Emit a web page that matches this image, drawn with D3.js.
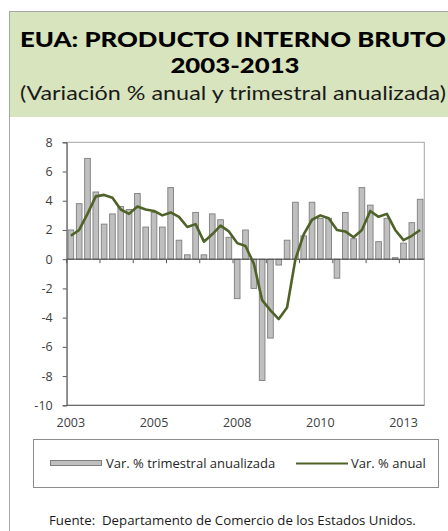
<!DOCTYPE html>
<html>
<head>
<meta charset="utf-8">
<script src="https://cdn.jsdelivr.net/npm/d3@7/dist/d3.min.js"></script>
<style>
    body { margin: 0; background: #fff; }
    svg { display: block; font-family: "Open Sans", "Noto Sans", sans-serif; }
</style>
</head>
<body>
<svg id="chart" width="448" height="531"></svg>
<script>
var quarters = [
    '2003T1', '2003T2', '2003T3', '2003T4', '2004T1', '2004T2', '2004T3', '2004T4',
    '2005T1', '2005T2', '2005T3', '2005T4', '2006T1', '2006T2', '2006T3', '2006T4',
    '2007T1', '2007T2', '2007T3', '2007T4', '2008T1', '2008T2', '2008T3', '2008T4',
    '2009T1', '2009T2', '2009T3', '2009T4', '2010T1', '2010T2', '2010T3', '2010T4',
    '2011T1', '2011T2', '2011T3', '2011T4', '2012T1', '2012T2', '2012T3', '2012T4',
    '2013T1', '2013T2', '2013T3'
];
var trimestral = [
    2.0, 3.8, 6.9, 4.6, 2.4, 3.1, 3.6, 3.4, 4.5, 2.2, 3.2, 2.2,
    4.9, 1.3, 0.3, 3.2, 0.3, 3.1, 2.7, 1.5, -2.7, 2.0, -2.0, -8.3,
    -5.4, -0.4, 1.3, 3.9, 1.6, 3.9, 2.8, 2.8, -1.3, 3.2, 1.4, 4.9,
    3.7, 1.2, 2.8, 0.1, 1.1, 2.5, 4.1
];
var anual = [
    1.6, 2.0, 3.1, 4.3, 4.4, 4.2, 3.4, 3.1, 3.6, 3.4, 3.3, 3.0,
    3.2, 2.9, 2.2, 2.4, 1.2, 1.7, 2.3, 1.9, 1.1, 0.9, -0.3, -2.8,
    -3.5, -4.1, -3.3, 0.0, 1.7, 2.7, 3.0, 2.8, 2.0, 1.9, 1.5, 2.0,
    3.3, 2.9, 3.1, 2.0, 1.3, 1.6, 2.0
];
var yTicks = [-10, -8, -6, -4, -2, 0, 2, 4, 6, 8];
var xLabelQuarters = ['2003T1', '2005T3', '2008T1', '2010T3', '2013T1'];
var xTickQuarters = ['2003T1', '2004T1', '2005T1', '2006T1', '2007T1', '2008T1',
    '2009T1', '2010T1', '2011T1', '2012T1', '2013T1'];

var titleLines = ['EUA: PRODUCTO INTERNO BRUTO', '2003-2013'];
var subtitle = '(Variación % anual y trimestral anualizada)';
var legendBars = 'Var. % trimestral anualizada';
var legendLine = 'Var. % anual';
var source = 'Fuente:  Departamento de Comercio de los Estados Unidos.';

var svg = d3.select('#chart');
var plot = { left: 66.7, right: 424.3, top: 142.3, bottom: 405.3 };
var green = '#4f6228';

// marco y cabecera
svg.append('rect')
    .attr('x', 9.5).attr('y', 11.5)
    .attr('width', 446).attr('height', 530)
    .attr('fill', '#fff')
    .attr('stroke', '#a6a6a6');
svg.append('rect')
    .attr('x', 10).attr('y', 12)
    .attr('width', 445).attr('height', 105)
    .attr('fill', '#d8e4bd');

function fitText(sel, target) {
    var size = parseFloat(sel.attr('font-size'));
    var w = sel.node().getComputedTextLength();
    sel.attr('font-size', (size * target / w).toFixed(2));
}

// titulo: tamano fijo, ancho ajustado con textLength
var t1 = svg.append('text')
    .attr('x', 233).attr('y', 46.5)
    .attr('text-anchor', 'middle')
    .attr('font-family', 'Lato, "Open Sans", sans-serif')
    .attr('font-size', 21.5).attr('font-weight', 900)
    .attr('fill', '#000')
    .text(titleLines[0]);
var w1 = t1.node().getComputedTextLength();
t1.attr('textLength', 426).attr('lengthAdjust', 'spacingAndGlyphs');

var t2 = svg.append('text')
    .attr('x', 235).attr('y', 72.5)
    .attr('text-anchor', 'middle')
    .attr('font-family', 'Lato, "Open Sans", sans-serif')
    .attr('font-size', 21.5).attr('font-weight', 900)
    .attr('fill', '#000')
    .text(titleLines[1]);
var w2 = t2.node().getComputedTextLength();
t2.attr('textLength', (w2 * 426 / w1).toFixed(1)).attr('lengthAdjust', 'spacingAndGlyphs');

var t3 = svg.append('text')
    .attr('x', 233).attr('y', 99.5)
    .attr('text-anchor', 'middle')
    .attr('font-family', 'Lato, "Open Sans", sans-serif')
    .attr('font-size', 19)
    .attr('fill', '#1a1a1a')
    .text(subtitle)
    .attr('textLength', 426)
    .attr('lengthAdjust', 'spacingAndGlyphs');

// escalas
var x = d3.scaleBand()
    .domain(quarters)
    .range([plot.left, plot.right])
    .padding(0);
var y = d3.scaleLinear()
    .domain([-10, 8])
    .range([plot.bottom, plot.top]);
var bw = x.bandwidth();

// borde del area de grafica
svg.append('rect')
    .attr('x', plot.left).attr('y', plot.top)
    .attr('width', plot.right - plot.left)
    .attr('height', plot.bottom - plot.top)
    .attr('fill', 'none')
    .attr('stroke', '#a6a6a6');

// eje y
var yAxis = svg.append('g')
    .attr('transform', 'translate(' + plot.left + ',0)')
    .call(d3.axisLeft(y).tickValues(yTicks).tickSize(4).tickPadding(10)
        .tickFormat(function(d) { return d; }));
yAxis.select('.domain').attr('stroke', '#595959');
yAxis.selectAll('.tick line').attr('stroke', '#595959');
yAxis.selectAll('.tick text')
    .attr('font-size', 12.5)
    .attr('font-family', '"Open Sans", sans-serif')
    .attr('fill', '#404040');

svg.append('line')
    .attr('x1', plot.left).attr('x2', plot.right)
    .attr('y1', plot.bottom).attr('y2', plot.bottom)
    .attr('stroke', '#595959');

// barras trimestrales
svg.append('g')
    .selectAll('rect')
    .data(quarters)
    .join('rect')
    .attr('x', function(d) { return x(d) + bw * 0.16; })
    .attr('width', bw * 0.68)
    .attr('y', function(d, i) { return y(Math.max(0, trimestral[i])); })
    .attr('height', function(d, i) { return Math.abs(y(trimestral[i]) - y(0)); })
    .attr('fill', '#bfbfbf')
    .attr('stroke', '#7f7f7f')
    .attr('stroke-width', 0.9);

// eje de categorias en cero
svg.append('line')
    .attr('x1', plot.left).attr('x2', plot.right)
    .attr('y1', y(0)).attr('y2', y(0))
    .attr('stroke', '#404040');
svg.append('g')
    .selectAll('line')
    .data(xTickQuarters)
    .join('line')
    .attr('x1', function(d) { return x(d); })
    .attr('x2', function(d) { return x(d); })
    .attr('y1', y(0))
    .attr('y2', y(0) + 4)
    .attr('stroke', '#595959');

svg.append('g')
    .selectAll('text')
    .data(xLabelQuarters)
    .join('text')
    .attr('x', function(d) { return x(d) + bw / 2; })
    .attr('y', 427)
    .attr('text-anchor', 'middle')
    .attr('font-size', 12.5)
    .attr('fill', '#404040')
    .text(function(d) { return d.slice(0, 4); });

// linea anual
var line = d3.line()
    .x(function(d, i) { return x(quarters[i]) + bw / 2; })
    .y(function(d) { return y(d); });
svg.append('path')
    .datum(anual)
    .attr('d', line)
    .attr('fill', 'none')
    .attr('stroke', green)
    .attr('stroke-width', 2.6)
    .attr('stroke-linejoin', 'round');

// leyenda
svg.append('rect')
    .attr('x', 33.5).attr('y', 439.5)
    .attr('width', 405).attr('height', 48)
    .attr('fill', '#fff')
    .attr('stroke', '#8c8c8c');
svg.append('rect')
    .attr('x', 50.5).attr('y', 460.5)
    .attr('width', 51).attr('height', 5)
    .attr('fill', '#bfbfbf')
    .attr('stroke', '#7f7f7f');
svg.append('text')
    .attr('x', 106).attr('y', 468)
    .attr('font-size', 13)
    .attr('fill', '#262626')
    .text(legendBars);
svg.append('line')
    .attr('x1', 296).attr('x2', 348)
    .attr('y1', 463.5).attr('y2', 463.5)
    .attr('stroke', green)
    .attr('stroke-width', 2);
svg.append('text')
    .attr('x', 351).attr('y', 468)
    .attr('font-size', 13)
    .attr('fill', '#262626')
    .text(legendLine);

var src = svg.append('text')
    .attr('x', 49).attr('y', 525)
    .attr('font-size', 12)
    .attr('fill', '#1a1a1a')
    .attr('xml:space', 'preserve')
    .style('white-space', 'pre')
    .text(source);
fitText(src, 367);
</script>
</body>
</html>
